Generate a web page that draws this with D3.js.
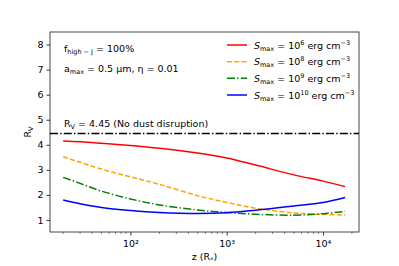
<!DOCTYPE html>
<html>
<head>
<meta charset="utf-8">
<script src="https://cdn.jsdelivr.net/npm/d3@7"></script>
<style>
  body { margin: 0; background: #fff; }
  svg text { font-family: "DejaVu Sans", sans-serif; fill: #000; }
</style>
</head>
<body>
<svg id="chart" width="399" height="266"></svg>
<script>
// data
const zValues = [20, 30, 50, 100, 200, 500, 1000, 2000, 5000, 10000, 17000];
const rvS6  = [4.15, 4.12, 4.06, 3.97, 3.86, 3.67, 3.47, 3.19, 2.80, 2.55, 2.33];
const rvS8  = [3.52, 3.30, 3.03, 2.72, 2.42, 1.97, 1.70, 1.47, 1.28, 1.22, 1.20];
const rvS9  = [2.70, 2.46, 2.15, 1.84, 1.60, 1.40, 1.30, 1.23, 1.19, 1.25, 1.34];
const rvS10 = [1.80, 1.65, 1.50, 1.38, 1.30, 1.26, 1.29, 1.39, 1.56, 1.70, 1.90];
const seriesNames = ['6', '8', '9', '10'];
const seriesColors = ['red', 'orange', 'green', 'blue'];
const seriesDash = [null, '5,2.2', '8,2.2,1.4,2.2', null];
const rvNoDisruption = 4.45;
const yTicks = [1, 2, 3, 4, 5, 6, 7, 8];
const xTicks = [100, 1000, 10000];

const series = [rvS6, rvS8, rvS9, rvS10];

const margin = {left: 50, top: 32, right: 40, bottom: 34};
const width = 399, height = 266;
const svg = d3.select('#chart');

const x = d3.scaleLog()
  .domain([14.6, 23700])
  .range([margin.left, width - margin.right]);
const y = d3.scaleLinear()
  .domain([0.52, 8.5])
  .range([height - margin.bottom, margin.top]);

// axes
const sup = {'0':'⁰','1':'¹','2':'²','3':'³','4':'⁴','5':'⁵','6':'⁶','7':'⁷','8':'⁸','9':'⁹'};
const xAxis = d3.axisBottom(x)
  .tickValues(xTicks)
  .tickSize(3.5)
  .tickFormat(d => '10' + String(Math.round(Math.log10(d))).split('').map(c => sup[c]).join(''));
const minor = [];
for (let e = 1; e <= 4; e++) {
  for (let m = 2; m <= 9; m++) {
    const v = m * Math.pow(10, e);
    if (v > x.domain()[0] && v < x.domain()[1]) minor.push(v);
  }
}

const gx = svg.append('g')
  .attr('transform', `translate(0,${height - margin.bottom})`)
  .call(xAxis);
gx.selectAll('.tick text').attr('font-size', 9.5).attr('dy', '0.9em');
gx.select('.domain').remove();
gx.selectAll('.tick line').attr('stroke', '#333');
gx.selectAll('.minor')
  .data(minor)
  .join('line')
  .attr('x1', d => x(d)).attr('x2', d => x(d))
  .attr('y1', 0).attr('y2', 2)
  .attr('stroke', '#333').attr('stroke-width', 0.6);

const gy = svg.append('g')
  .attr('transform', `translate(${margin.left},0)`)
  .call(d3.axisLeft(y).tickValues(yTicks).tickSize(3.5));
gy.select('.domain').remove();
gy.selectAll('.tick text').attr('font-size', 9.5);
gy.selectAll('.tick line').attr('stroke', '#333');

// frame
svg.append('rect')
  .attr('x', margin.left).attr('y', margin.top)
  .attr('width', width - margin.right - margin.left)
  .attr('height', height - margin.bottom - margin.top)
  .attr('fill', 'none').attr('stroke', '#333').attr('stroke-width', 0.9);

// axis labels
const xl = svg.append('text')
  .attr('x', (margin.left + width - margin.right) / 2)
  .attr('y', 260)
  .attr('text-anchor', 'middle')
  .attr('font-size', 9.5);
xl.append('tspan').text('z (R');
xl.append('tspan').attr('font-size', 6.5).attr('dy', 1.5).text('*');
xl.append('tspan').attr('dy', -1.5).text(')');

const yl = svg.append('text')
  .attr('transform', `translate(31,${(margin.top + height - margin.bottom) / 2}) rotate(-90)`)
  .attr('text-anchor', 'middle')
  .attr('font-size', 9.5);
yl.append('tspan').text('R');
yl.append('tspan').attr('font-size', 6.5).attr('dy', 2).text('V');

// reference line
svg.append('line')
  .attr('x1', margin.left).attr('x2', width - margin.right)
  .attr('y1', y(rvNoDisruption)).attr('y2', y(rvNoDisruption))
  .attr('stroke', '#000').attr('stroke-width', 1.5)
  .attr('stroke-dasharray', '8,2.2,1.4,2.2');

// curves
const line = d3.line()
  .x((d, i) => x(zValues[i]))
  .y(d => y(d))
  .curve(d3.curveCatmullRom.alpha(0.5));

series.forEach((s, k) => {
  svg.append('path')
    .datum(s)
    .attr('d', line)
    .attr('fill', 'none')
    .attr('stroke', seriesColors[k])
    .attr('stroke-width', 1.5)
    .attr('stroke-dasharray', seriesDash[k]);
});

// annotations
function subText(xp, yp, main, sub, rest) {
  const t = svg.append('text').attr('x', xp).attr('y', yp).attr('font-size', 9.5);
  t.append('tspan').text(main);
  t.append('tspan').attr('font-size', 6.5).attr('dy', 2).text(sub);
  t.append('tspan').attr('dy', -2).text(rest);
  return t;
}
subText(64, 52, 'f', 'high − J', ' = 100%');
subText(64, 72, 'a', 'max', ' = 0.5 μm, η = 0.01');
subText(64, 127, 'R', 'V', ' = 4.45 (No dust disruption)');

// legend
const legendY = [45, 61.7, 78.3, 95];
seriesNames.forEach((name, k) => {
  const ly = legendY[k];
  svg.append('line')
    .attr('x1', 227).attr('x2', 247)
    .attr('y1', ly).attr('y2', ly)
    .attr('stroke', seriesColors[k])
    .attr('stroke-width', 1.5)
    .attr('stroke-dasharray', seriesDash[k]);
  const t = svg.append('text').attr('x', 254).attr('y', ly + 3.5).attr('font-size', 9.5);
  t.append('tspan').attr('font-style', 'italic').text('S');
  t.append('tspan').attr('font-size', 6.5).attr('dy', 2).text('max');
  t.append('tspan').attr('dy', -2).text(' = 10');
  t.append('tspan').attr('font-size', 6.5).attr('dy', -4).text(name);
  t.append('tspan').attr('dy', 4).text(' erg cm');
  t.append('tspan').attr('font-size', 6.5).attr('dy', -4).text('−3');
});
</script>
</body>
</html>
